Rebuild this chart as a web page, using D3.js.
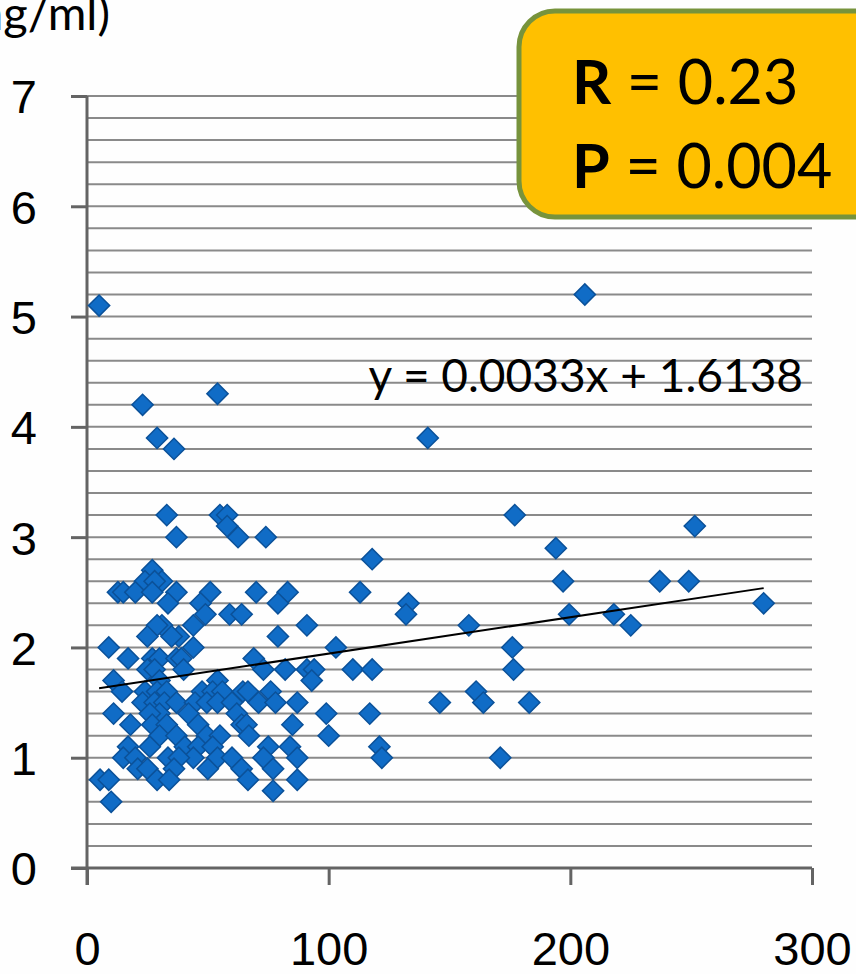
<!DOCTYPE html>
<html>
<head>
<meta charset="utf-8">
<script src="https://cdn.jsdelivr.net/npm/d3@7"></script>
<style>
  html, body { margin: 0; padding: 0; background: #fff; }
  svg { display: block; font-family: Lato, "Open Sans", sans-serif; }
</style>
</head>
<body>
<svg id="chart"></svg>
<script>
// scatter points [x, y]
const points = [
  [5, 5.1], [206, 5.2], [54, 4.3], [23, 4.2], [141, 3.9], [29, 3.9], [36, 3.8],
  [33, 3.2], [55, 3.2], [58, 3.2], [58, 3.1], [37, 3.0], [62.5, 3.0], [74, 3.0], [177, 3.2], [251.5, 3.1],
  [27, 2.7], [24, 2.6], [31, 2.6], [28, 2.6], [118, 2.8], [194, 2.9],
  [12.8, 2.5], [15, 2.5], [20, 2.5], [27, 2.5], [37, 2.5], [51, 2.5], [70, 2.5], [83, 2.5], [113, 2.5],
  [197, 2.6], [237, 2.6], [249, 2.6],
  [33.5, 2.4], [47, 2.4], [79, 2.4], [133, 2.4], [280, 2.4],
  [49, 2.3], [59, 2.3], [64, 2.3], [132, 2.3], [199.5, 2.3], [218, 2.3],
  [31, 2.2], [29, 2.2], [44, 2.2], [91, 2.2], [158, 2.2], [225, 2.2],
  [25, 2.1], [38, 2.1], [79, 2.1], [35, 2.1],
  [9, 2.0], [44, 2.0], [103, 2.0], [176, 2.0],
  [17, 1.9], [27, 1.9], [30, 1.9], [37, 1.9], [39, 1.9], [69, 1.9],
  [25, 1.8], [28, 1.8], [40, 1.8], [73, 1.8], [82, 1.8], [91, 1.8], [94, 1.8], [110, 1.8], [118, 1.8], [176.5, 1.8],
  [11, 1.7], [54, 1.7], [93, 1.7], [30, 1.7],
  [14.5, 1.6], [24, 1.6], [29, 1.6], [47.6, 1.6], [52, 1.6], [56, 1.6], [64.5, 1.6], [66.6, 1.6], [76, 1.6], [161, 1.6], [33, 1.6],
  [23, 1.5], [28, 1.5], [32, 1.5], [37, 1.5], [44.7, 1.5], [49.6, 1.5], [54, 1.5], [71, 1.5], [78, 1.5], [87, 1.5],
  [146, 1.5], [164, 1.5], [183, 1.5], [60, 1.5],
  [11, 1.4], [30, 1.4], [62, 1.4], [99, 1.4], [117, 1.4], [26, 1.4], [42, 1.4],
  [18, 1.3], [27, 1.3], [46, 1.3], [64, 1.3], [66, 1.3], [85, 1.3], [33, 1.3],
  [30, 1.2], [49.6, 1.2], [55, 1.2], [67, 1.2], [100, 1.2], [37, 1.2],
  [17, 1.1], [40.5, 1.1], [75, 1.1], [84, 1.1], [121, 1.1], [26, 1.1], [46, 1.1], [52, 1.1],
  [15, 1.0], [20, 1.0], [33.5, 1.0], [54, 1.0], [60, 1.0], [73, 1.0], [87, 1.0], [122, 1.0], [171, 1.0], [44, 1.0], [38, 1.0],
  [21, 0.9], [25, 0.9], [36, 0.9], [50, 0.9], [64, 0.9], [77, 0.9],
  [5.4, 0.8], [9, 0.8], [29, 0.8], [34, 0.8], [66.6, 0.8], [87, 0.8],
  [77, 0.7], [10, 0.6]
];

const xTicks = [0, 100, 200, 300];
const yTicks = [0, 1, 2, 3, 4, 5, 6, 7];
const slope = 0.0033, intercept = 1.6138;
const trendRange = [5, 280];
const trendLabel = 'y = 0.0033x + 1.6138';
const statLines = [['R', ' = 0.23'], ['P', ' = 0.004']];
const yTitle = '(ng/ml)';

const W = 856, H = 974;
const svg = d3.select('#chart').attr('width', W).attr('height', H);

svg.append('rect').attr('width', W).attr('height', H).attr('fill', '#fefefe');

const x = d3.scaleLinear().domain([0, 300]).range([87, 812]);
const y = d3.scaleLinear().domain([0, 7]).range([868, 96]);

// minor gridlines every 0.2
const grid = d3.range(1, 36).map(i => i * 0.2);
svg.append('g').selectAll('line').data(grid).join('line')
  .attr('x1', x(0)).attr('x2', x(300))
  .attr('y1', d => y(d)).attr('y2', d => y(d))
  .attr('stroke', '#8a8a8a').attr('stroke-width', 2);

// y axis
const yAxis = svg.append('g').attr('transform', `translate(${x(0)},0)`)
  .call(d3.axisLeft(y).tickValues(yTicks).tickSize(16).tickPadding(34).tickFormat(d3.format('d')));
yAxis.select('.domain').remove();
yAxis.selectAll('.tick line').attr('stroke', '#646464').attr('stroke-width', 3);
yAxis.selectAll('.tick text').attr('font-size', 47).attr('fill', '#000').attr('dy', '0.36em');

svg.append('line')
  .attr('x1', x(0)).attr('x2', x(0))
  .attr('y1', y(7)).attr('y2', y(0) + 17)
  .attr('stroke', '#646464').attr('stroke-width', 3);

// x axis
const xAxis = svg.append('g').attr('transform', `translate(0,${y(0)})`)
  .call(d3.axisBottom(x).tickValues(xTicks).tickSize(17).tickPadding(47).tickFormat(d3.format('d')));
xAxis.select('.domain').remove();
xAxis.selectAll('.tick line').attr('stroke', '#646464').attr('stroke-width', 3);
xAxis.selectAll('.tick text').attr('font-size', 47).attr('fill', '#000');

svg.append('line')
  .attr('x1', x(0) - 16).attr('x2', x(300))
  .attr('y1', y(0)).attr('y2', y(0))
  .attr('stroke', '#646464').attr('stroke-width', 3);

// y title (cut off at left edge, as in the source)
svg.append('text').attr('x', 110).attr('y', 30)
  .attr('text-anchor', 'end').attr('font-size', 47).text(yTitle);

// points
const diamond = d3.symbol(d3.symbolSquare, 225);
svg.append('g').selectAll('path').data(points).join('path')
  .attr('d', diamond)
  .attr('transform', d => `translate(${x(d[0])},${y(d[1])}) rotate(45)`)
  .attr('fill', '#106cc6').attr('stroke', '#0b5199').attr('stroke-width', 1.5);

// trend line
svg.append('path')
  .datum(trendRange)
  .attr('d', d3.line().x(d => x(d)).y(d => y(slope * d + intercept)))
  .attr('stroke', '#000').attr('stroke-width', 2).attr('fill', 'none');

svg.append('text').attr('x', 803).attr('y', 392)
  .attr('text-anchor', 'end').attr('font-size', 46).text(trendLabel);

// stats box
svg.append('rect')
  .attr('x', 519).attr('y', 11).attr('width', 380).attr('height', 206).attr('rx', 36)
  .attr('fill', '#ffc000').attr('stroke', '#77933c').attr('stroke-width', 5);

const st = svg.append('g').selectAll('text').data(statLines).join('text')
  .attr('x', 572).attr('y', (d, i) => 104 + i * 84).attr('font-size', 61);
st.append('tspan').attr('font-weight', 'bold').text(d => d[0]);
st.append('tspan').text(d => d[1]);
</script>
</body>
</html>
